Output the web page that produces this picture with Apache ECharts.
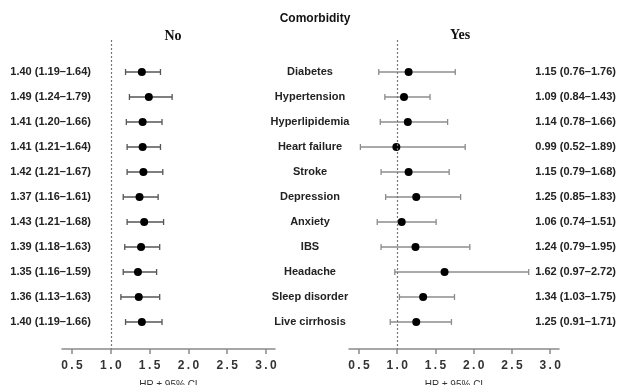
<!DOCTYPE html>
<html><head><meta charset="utf-8">
<script src="https://cdn.jsdelivr.net/npm/echarts@6/dist/echarts.min.js"></script>
<style>html,body{margin:0;padding:0;background:#fff}#c{width:621px;height:385px}</style>
</head><body><div id="c"></div>
<script>
const categories = ['Diabetes','Hypertension','Hyperlipidemia','Heart failure','Stroke','Depression','Anxiety','IBS','Headache','Sleep disorder','Live cirrhosis'];
const noHR = [1.40,1.49,1.41,1.41,1.42,1.37,1.43,1.39,1.35,1.36,1.40];
const noLo = [1.19,1.24,1.20,1.21,1.21,1.16,1.21,1.18,1.16,1.13,1.19];
const noHi = [1.64,1.79,1.66,1.64,1.67,1.61,1.68,1.63,1.59,1.63,1.66];
const yesHR = [1.15,1.09,1.14,0.99,1.15,1.25,1.06,1.24,1.62,1.34,1.25];
const yesLo = [0.76,0.84,0.78,0.52,0.79,0.85,0.74,0.79,0.97,1.03,0.91];
const yesHi = [1.76,1.43,1.66,1.89,1.68,1.83,1.51,1.95,2.72,1.75,1.71];
const xTicks = [0.5,1.0,1.5,2.0,2.5,3.0];

const idx = categories.map((_, i) => i);
const fmt = (h, l, u) => h.toFixed(2) + ' (' + l.toFixed(2) + '\u2013' + u.toFixed(2) + ')';
const noText = idx.map(i => fmt(noHR[i], noLo[i], noHi[i]));
const yesText = idx.map(i => fmt(yesHR[i], yesLo[i], yesHi[i]));

const FONT = 'Liberation Sans, Arial, sans-serif';
const lab = {fontFamily: FONT, fontWeight: 'bold', fontSize: 11, color: '#222'};

function xAxis(gi) {
  return {
    type: 'value', gridIndex: gi, min: 0.371, max: 3.116, position: 'bottom',
    axisLine: {show: true, onZero: false, lineStyle: {color: '#8a8a8a', width: 1.5}},
    axisTick: {show: true, length: 5, customValues: xTicks, lineStyle: {color: '#8a8a8a', width: 1.5}},
    axisLabel: {customValues: xTicks, formatter: v => v.toFixed(1).split('').join('\u2009'),
      fontFamily: FONT, fontWeight: 'bold', fontSize: 12, color: '#333', margin: 11},
    splitLine: {show: false},
    name: 'HR \u00b1 95% CI', nameLocation: 'middle', nameGap: 31,
    nameTextStyle: {fontFamily: FONT, fontSize: 10, color: '#333'}
  };
}
function yAxis(gi, pos, texts, align, margin) {
  return {
    type: 'value', gridIndex: gi, inverse: true, min: -1.28, max: 11.08, position: pos,
    axisLine: {show: false, onZero: false}, axisTick: {show: false}, splitLine: {show: false},
    axisLabel: Object.assign({customValues: idx, formatter: v => texts[Math.round(v)] || '',
      align: align, margin: margin}, lab)
  };
}
function ciSeries(xi, yi, lo, hi, color) {
  return {
    type: 'custom', xAxisIndex: xi, yAxisIndex: yi,
    data: idx.map(i => [lo[i], hi[i], i]),
    renderItem: (params, api) => {
      const a = api.coord([api.value(0), api.value(2)]);
      const b = api.coord([api.value(1), api.value(2)]);
      const st = {stroke: color, lineWidth: 1.3};
      return {type: 'group', children: [
        {type: 'line', shape: {x1: a[0], y1: a[1], x2: b[0], y2: b[1]}, style: st},
        {type: 'line', shape: {x1: a[0], y1: a[1]-3, x2: a[0], y2: a[1]+3}, style: st},
        {type: 'line', shape: {x1: b[0], y1: b[1]-3, x2: b[0], y2: b[1]+3}, style: st}
      ]};
    },
    z: 2
  };
}
function ptSeries(xi, yi, hr) {
  return {
    type: 'scatter', xAxisIndex: xi, yAxisIndex: yi, symbolSize: 8,
    itemStyle: {color: '#000', opacity: 1}, data: idx.map(i => [hr[i], i]), z: 3,
    markLine: {silent: true, symbol: 'none', label: {show: false},
      lineStyle: {color: '#777', type: [2, 2], width: 1.2}, data: [{xAxis: 1}]}
  };
}

const chart = echarts.init(document.getElementById('c'), null, {renderer: 'canvas'});
chart.setOption({
  animation: false,
  title: [
    {text: 'Comorbidity', left: 310, top: 8, textAlign: 'center',
      textStyle: {fontFamily: FONT, fontWeight: 'bold', fontSize: 12, color: '#111'}},
    {text: 'No', left: 168, top: 24, textAlign: 'center',
      textStyle: {fontFamily: 'Liberation Serif, serif', fontWeight: 'bold', fontSize: 14, color: '#111'}},
    {text: 'Yes', left: 455, top: 23, textAlign: 'center',
      textStyle: {fontFamily: 'Liberation Serif, serif', fontWeight: 'bold', fontSize: 14, color: '#111'}}
  ],
  grid: [
    {left: 62, width: 213, top: 40, height: 309, outerBoundsMode: 'none', containLabel: false},
    {left: 349, width: 210, top: 40, height: 309, outerBoundsMode: 'none', containLabel: false}
  ],
  xAxis: [xAxis(0), xAxis(1)],
  yAxis: [
    yAxis(0, 'left', noText, 'right', -29),
    yAxis(1, 'left', categories, 'center', 39),
    yAxis(1, 'right', yesText, 'right', 57)
  ],
  series: [
    ciSeries(0, 0, noLo, noHi, '#555'),
    ptSeries(0, 0, noHR),
    ciSeries(1, 1, yesLo, yesHi, '#8c8c8c'),
    ptSeries(1, 1, yesHR)
  ]
});
</script></body></html>
